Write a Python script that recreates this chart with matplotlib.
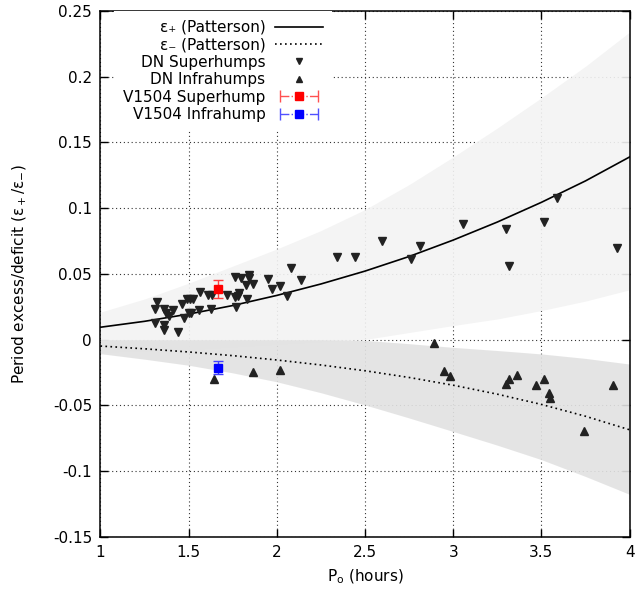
import matplotlib
matplotlib.use('Agg')
import matplotlib.pyplot as plt
from matplotlib.lines import Line2D
from matplotlib.legend_handler import HandlerLine2D, HandlerTuple

plt.rcParams['font.family'] = 'DejaVu Sans'
plt.rcParams['mathtext.fontset'] = 'dejavusans'

P_curve = [1.0, 1.25, 1.5, 1.75, 2.0, 2.25, 2.5, 2.75, 3.0, 3.25, 3.5, 3.75, 4.0]
eps_plus = [0.0095, 0.014, 0.0195, 0.026, 0.0337, 0.0424, 0.0522, 0.0633, 0.0758, 0.0895, 0.1045, 0.1208, 0.139]
eps_minus = [-0.0048, -0.0069, -0.0093, -0.0121, -0.0154, -0.0192, -0.0236, -0.0287, -0.0346, -0.0414, -0.0492, -0.0582, -0.0685]
plus_hi = [0.021, 0.031, 0.043, 0.056, 0.069, 0.083, 0.099, 0.118, 0.139, 0.161, 0.184, 0.208, 0.234]
plus_lo = [-0.01, -0.009, -0.008, -0.006, -0.004, -0.002, 0.0002, 0.0055, 0.0108, 0.0158, 0.0222, 0.0294, 0.038]
minus_hi = [0.0, 0.0, 0.0, 0.0, 0.0, 0.0, -0.0005, -0.003, -0.0058, -0.0082, -0.0108, -0.0142, -0.0185]
minus_lo = [-0.0106, -0.0148, -0.0194, -0.0252, -0.032, -0.0403, -0.0496, -0.0595, -0.0698, -0.0802, -0.0912, -0.104, -0.1176]

# dwarf nova superhumps
sh_P = [1.320, 1.310, 1.362, 1.410, 1.372, 1.391, 1.308, 1.358, 1.358, 1.439,
        1.462, 1.473, 1.492, 1.506, 1.525, 1.500, 1.511, 1.558, 1.563, 1.611,
        1.634, 1.627, 1.719, 1.765, 1.799, 1.845, 1.845, 1.828, 1.864, 1.761,
        1.780, 1.788, 1.832, 1.770, 1.951, 1.970, 2.020, 2.083, 2.135, 2.058,
        2.342, 2.445, 2.599, 2.812, 2.762, 3.053, 3.301, 3.318, 3.513, 3.590,
        3.926]
sh_eps = [0.0287, 0.0237, 0.0237, 0.0224, 0.0202, 0.0181, 0.0126, 0.0111, 0.0073, 0.0060,
          0.0275, 0.0169, 0.0307, 0.0307, 0.0307, 0.0202, 0.0202, 0.0227, 0.0363, 0.0343,
          0.0343, 0.0237, 0.0343, 0.0479, 0.0471, 0.0489, 0.0466, 0.0413, 0.0421, 0.0325,
          0.0333, 0.0358, 0.0307, 0.0252, 0.0464, 0.0388, 0.0408, 0.0544, 0.0454, 0.0333,
          0.0627, 0.0630, 0.0753, 0.0711, 0.0617, 0.0879, 0.0841, 0.0564, 0.0892, 0.1076,
          0.0698]

# dwarf nova infrahumps
ih_P = [1.642, 1.864, 2.020, 2.892, 2.950, 2.982, 3.314, 3.299, 3.362, 3.467,
        3.513, 3.544, 3.548, 3.740, 3.907]
ih_eps = [-0.030, -0.0249, -0.0232, -0.0025, -0.0235, -0.0277, -0.0297, -0.0335, -0.0265, -0.0345,
          -0.0295, -0.0405, -0.0440, -0.0695, -0.0347]

# V1504 Cyg
v_sh_P, v_sh_eps, v_sh_err = [1.665], [0.0388], [0.007]
v_ih_P, v_ih_eps, v_ih_err = [1.665], [-0.0212], [0.0047]

xticks = [1, 1.5, 2, 2.5, 3, 3.5, 4]
xlabels = ['1', '1.5', '2', '2.5', '3', '3.5', '4']
yticks = [-0.15, -0.1, -0.05, 0, 0.05, 0.1, 0.15, 0.2, 0.25]
ylabels = ['-0.15', '-0.1', '-0.05', '0', '0.05', '0.1', '0.15', '0.2', '0.25']

fig = plt.figure(figsize=(6.36, 5.94), dpi=100)
ax = fig.add_axes([0.1579, 0.0960, 0.8321, 0.8855])
ax.set_axisbelow(True)
ax.grid(True, ls=(0, (1, 2.5)), color='0.2', lw=0.8)

ax.fill_between(P_curve, plus_lo, plus_hi, color='0.952', alpha=0.9, lw=0, zorder=1)
ax.fill_between(P_curve, minus_lo, minus_hi, color='0.887', alpha=0.9, lw=0, zorder=1.1)

line_p, = ax.plot(P_curve, eps_plus, color='black', lw=1.2, zorder=2)
line_m, = ax.plot(P_curve, eps_minus, color='black', lw=1.2, ls=(0, (1, 2)), zorder=2)

tri_col = '#222222'
ax.plot(sh_P, sh_eps, 'v', color=tri_col, ms=5.3, ls='none', zorder=3)
ax.plot(ih_P, ih_eps, '^', color=tri_col, ms=5.3, ls='none', zorder=3)

ax.errorbar(v_sh_P, v_sh_eps, yerr=v_sh_err, fmt='s', color='red', ecolor='#ff4040',
            ms=5.5, elinewidth=1, capsize=3.5, capthick=1, zorder=4)
ax.errorbar(v_ih_P, v_ih_eps, yerr=v_ih_err, fmt='s', color='blue', ecolor='#4040ff',
            ms=5.5, elinewidth=1, capsize=3.5, capthick=1, zorder=4)

ax.set_xlim(1, 4)
ax.set_ylim(-0.15, 0.25)
ax.set_xticks(xticks)
ax.set_xticklabels(xlabels)
ax.set_yticks(yticks)
ax.set_yticklabels(ylabels)
ax.tick_params(direction='in', top=True, right=True, length=6, width=1,
               labelsize=11, pad=6)
for s in ax.spines.values():
    s.set_linewidth(1.1)

ax.set_xlabel('P$_\\mathregular{o}$ (hours)', fontsize=11)
ax.xaxis.set_label_coords(0.5, -0.058)
ax.set_ylabel('Period excess/deficit (ε$_+$/ε$_{\\mathregular{-}}$)', fontsize=11)
ax.yaxis.set_label_coords(-0.135, 0.5)

# legend handles
sh_h = Line2D([], [], marker='v', color=tri_col, ls='none', ms=4.2)
ih_h = Line2D([], [], marker='^', color=tri_col, ls='none', ms=4.2)
caps_r = Line2D([], [], color='#ff5050', ls='-.', lw=1, marker='|', ms=9, mew=1)
sq_r = Line2D([], [], color='red', ls='none', marker='s', ms=5.5)
caps_b = Line2D([], [], color='#5050ff', ls='-.', lw=1, marker='|', ms=9, mew=1)
sq_b = Line2D([], [], color='blue', ls='none', marker='s', ms=5.5)

leg_labels = ['ε\u208a (Patterson)', 'ε\u208b (Patterson)', 'DN Superhumps',
              'DN Infrahumps', 'V1504 Superhump', 'V1504 Infrahump']
leg = ax.legend([line_p, line_m, sh_h, ih_h, (caps_r, sq_r), (caps_b, sq_b)], leg_labels,
                handler_map={caps_r: HandlerLine2D(numpoints=2),
                             caps_b: HandlerLine2D(numpoints=2),
                             tuple: HandlerTuple(ndivide=1)},
                markerfirst=False, numpoints=1, loc='upper left',
                bbox_to_anchor=(0.026, 1.0), borderaxespad=0, fancybox=False,
                edgecolor='none', facecolor='white', framealpha=1, fontsize=11,
                handlelength=3.1, handletextpad=0.65, labelspacing=0.16, borderpad=0.58)
leg.set_zorder(5)

fig.savefig('out.png', dpi=100)
